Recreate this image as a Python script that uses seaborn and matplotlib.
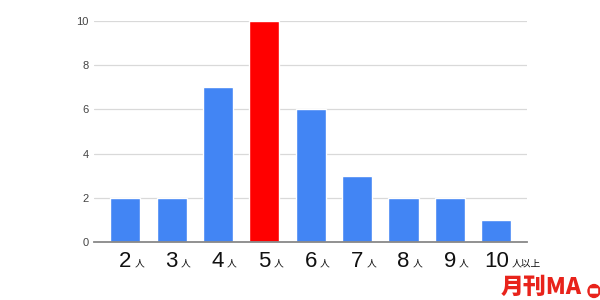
import matplotlib
matplotlib.use("Agg")
import matplotlib.pyplot as plt
import seaborn as sns
import pandas as pd
from matplotlib.patches import Ellipse, FancyBboxPatch

categories = ["2", "3", "4", "5", "6", "7", "8", "9", "10"]
suffixes = ["人", "人", "人", "人", "人", "人", "人", "人", "人以上"]
values = [2, 2, 7, 10, 6, 3, 2, 2, 1]
highlight = "5"
yticks = [0, 2, 4, 6, 8, 10]

sns.set_theme(style="white")
plt.rcParams['font.family'] = ['Noto Sans CJK JP', 'DejaVu Sans']

df = pd.DataFrame({"cat": categories, "val": values})
palette = {c: ("#FF0000" if c == highlight else "#4285F4") for c in categories}

fig = plt.figure(figsize=(6, 3), dpi=100)
ax = fig.add_axes([0.157, 0.193, 0.722, 0.737])
sns.barplot(data=df, x="cat", y="val", hue="cat", palette=palette, legend=False,
            width=0.65, saturation=1, ax=ax, zorder=3)

ax.set_xlim(-0.67, 8.67)
ax.set_ylim(0, 10)
ax.set_yticks(yticks)
ax.set_yticklabels([str(t) for t in yticks], fontsize=8, color="#444444",
                   family=['Liberation Sans', 'DejaVu Sans'])
ax.tick_params(axis="y", length=0, pad=4)
ax.tick_params(axis="x", length=0)
ax.set_xticks(range(len(categories)))
ax.set_xticklabels([""] * len(categories))
ax.set_xlabel("")
ax.set_ylabel("")
ax.yaxis.grid(True, color="#d9d9d9", linewidth=0.9, zorder=0)
for s in ["top", "right", "left"]:
    ax.spines[s].set_visible(False)
ax.spines["bottom"].set_color("#888888")
ax.spines["bottom"].set_linewidth(1.3)
ax.spines["bottom"].set_zorder(4)

trans = ax.get_xaxis_transform()
for i, (c, s) in enumerate(zip(categories, suffixes)):
    t = ax.text(i, -0.113, c, transform=trans, ha="center", va="baseline",
                fontsize=16, color="#111111", family=['Liberation Sans', 'DejaVu Sans'])
    ax.annotate(s, xy=(1, 0), xycoords=t, xytext=(2, 2.6), textcoords="offset points",
                ha="left", va="bottom", fontsize=7, color="#111111")

# watermark
fig.text(0.835, 0.005, "月刊MA", color="#E8231B", fontsize=16.5, fontweight="heavy",
         ha="left", va="bottom", family=['Noto Sans CJK JP', 'DejaVu Sans'])
fig.add_artist(Ellipse((0.99, 0.03), 0.02, 0.043, transform=fig.transFigure,
                       color="#E8231B", zorder=10))
fig.add_artist(FancyBboxPatch((0.984, 0.022), 0.012, 0.016,
                              boxstyle="round,pad=0.001", transform=fig.transFigure,
                              facecolor="white", edgecolor="none", zorder=11))

fig.savefig("out.png", dpi=100)
